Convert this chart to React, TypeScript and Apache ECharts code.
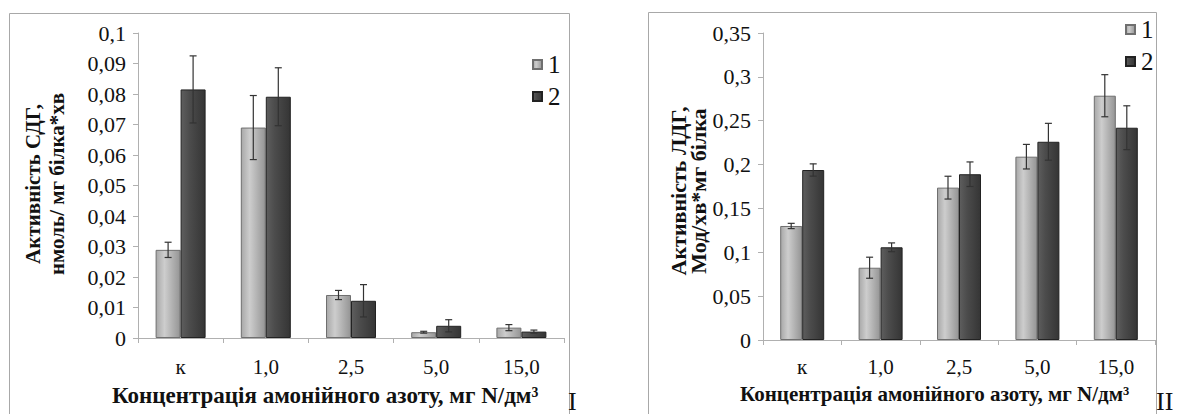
import React, { useEffect, useRef } from "react";
import * as echarts from "echarts";

const categories = ["к", "1,0", "2,5", "5,0", "15,0"];
const sdg1 = [0.0289, 0.069, 0.0141, 0.0019, 0.0034];
const sdg1Err = [0.0025, 0.0105, 0.0015, 0.0003, 0.001];
const sdg2 = [0.0815, 0.0791, 0.0122, 0.004, 0.0021];
const sdg2Err = [0.011, 0.0095, 0.0053, 0.002, 0.0005];
const ldg1 = [0.13, 0.0824, 0.1737, 0.209, 0.2785];
const ldg1Err = [0.003, 0.012, 0.013, 0.014, 0.024];
const ldg2 = [0.1938, 0.1057, 0.189, 0.226, 0.242];
const ldg2Err = [0.007, 0.005, 0.014, 0.021, 0.025];
const leftTicks = ["0", "0,01", "0,02", "0,03", "0,04", "0,05", "0,06", "0,07", "0,08", "0,09", "0,1"];
const rightTicks = ["0", "0,05", "0,1", "0,15", "0,2", "0,25", "0,3", "0,35"];
const seriesNames = ["1", "2"];
const leftYTitle = "Активність СДГ,\nнмоль/ мг білка*хв";
const rightYTitle = "Активність ЛДГ,\nМод/хв*мг білка";
const xTitle = "Концентрація амонійного азоту, мг N/дм³";

const FONT = "Liberation Serif";

export default function App() {
  const ref = useRef<HTMLDivElement>(null);
  useEffect(() => {
    if (!ref.current) return;
    const chart = echarts.init(ref.current, undefined, { renderer: "svg" });
    const light = new echarts.graphic.LinearGradient(0, 0, 1, 0, [
      { offset: 0, color: "#a8a8a8" },
      { offset: 0.35, color: "#cdcdcd" },
      { offset: 1, color: "#959595" },
    ]);
    const dark = new echarts.graphic.LinearGradient(0, 0, 1, 0, [
      { offset: 0, color: "#5e5e5e" },
      { offset: 0.35, color: "#4c4c4c" },
      { offset: 1, color: "#353535" },
    ]);
    const errRender = (offset: number) => (params: any, api: any) => {
      const i = api.value(0);
      const lo = api.coord([i, api.value(1)]);
      const hi = api.coord([i, api.value(2)]);
      const x = lo[0] + offset;
      const c = 3.5;
      const st = { stroke: "#333", lineWidth: 1.2 };
      return {
        type: "group",
        children: [
          { type: "line", shape: { x1: x, y1: hi[1], x2: x, y2: lo[1] }, style: st },
          { type: "line", shape: { x1: x - c, y1: hi[1], x2: x + c, y2: hi[1] }, style: st },
          { type: "line", shape: { x1: x - c, y1: lo[1], x2: x + c, y2: lo[1] }, style: st },
        ],
      };
    };
    const errData = (v: number[], e: number[]) => v.map((val, i) => [i, Math.max(0, val - e[i]), val + e[i]]);
    const axisLabelStyle = { fontFamily: FONT, fontSize: 22, color: "#111" };
    const mkX = (gi: number, margin: number) => ({
      type: "category",
      gridIndex: gi,
      data: categories,
      axisLine: { lineStyle: { color: "#b0b0b0" } },
      axisTick: { show: true, length: 5, lineStyle: { color: "#b0b0b0" } },
      axisLabel: { ...axisLabelStyle, fontSize: 21, margin },
    });
    const mkY = (gi: number, max: number, interval: number, ticks: string[]) => ({
      type: "value",
      gridIndex: gi,
      min: 0,
      max,
      interval,
      splitLine: { show: false },
      axisLine: { show: true, lineStyle: { color: "#b0b0b0" } },
      axisTick: { show: true, length: 5, lineStyle: { color: "#b0b0b0" } },
      axisLabel: {
        ...axisLabelStyle,
        margin: 12,
        formatter: (v: number) => ticks[Math.round(v / interval)] ?? "",
      },
    });
    const barSeries = (name: string, gi: number, data: number[], color: any, border: string, w: number) => ({
      name,
      type: "bar",
      xAxisIndex: gi,
      yAxisIndex: gi,
      data,
      barWidth: w,
      barGap: "0%",
      itemStyle: { color, borderColor: border, borderWidth: 1 },
    });
    const errSeries = (gi: number, v: number[], e: number[], offset: number) => ({
      name: "err",
      type: "custom",
      xAxisIndex: gi,
      yAxisIndex: gi,
      z: 10,
      renderItem: errRender(offset),
      encode: { x: 0, y: [1, 2] },
      data: errData(v, e),
    });
    const legendCommon = {
      data: seriesNames,
      orient: "vertical",
      icon: "rect",
      itemWidth: 9,
      itemHeight: 9,
      itemGap: 7,
      textStyle: { fontFamily: FONT, fontSize: 25, color: "#111", padding: [0, 0, 0, 1] },
      selectedMode: false,
    };
    chart.setOption({
      animation: false,
      backgroundColor: "#fff",
      grid: [
        { left: 138, right: 615, top: 33, bottom: 76 },
        { left: 763, right: 24, top: 33, bottom: 74 },
      ],
      xAxis: [mkX(0, 18), mkX(1, 16)],
      yAxis: [mkY(0, 0.1, 0.01, leftTicks), mkY(1, 0.35, 0.05, rightTicks)],
      legend: [
        { ...legendCommon, left: 527, top: 47 },
        { ...legendCommon, left: 1120, top: 12 },
      ],
      series: [
        barSeries(seriesNames[0], 0, sdg1, light, "#6f6f6f", 25),
        barSeries(seriesNames[1], 0, sdg2, dark, "#222", 25),
        barSeries(seriesNames[0], 1, ldg1, light, "#6f6f6f", 22),
        barSeries(seriesNames[1], 1, ldg2, dark, "#222", 22),
        errSeries(0, sdg1, sdg1Err, -12.5),
        errSeries(0, sdg2, sdg2Err, 12.5),
        errSeries(1, ldg1, ldg1Err, -11),
        errSeries(1, ldg2, ldg2Err, 11),
      ],
      graphic: [
        { type: "rect", shape: { x: 9.5, y: 13.5, width: 560, height: 420 }, style: { fill: "none", stroke: "#a8a8a8", lineWidth: 1 }, z: -1 },
        { type: "rect", shape: { x: 648.5, y: 12.5, width: 508, height: 420 }, style: { fill: "none", stroke: "#a8a8a8", lineWidth: 1 }, z: -1 },
        {
          type: "text", x: 45, y: 184, rotation: Math.PI / 2,
          style: { text: leftYTitle, fontFamily: FONT, fontWeight: "bold", fontSize: 21, fill: "#111", align: "center", verticalAlign: "middle", lineHeight: 24 },
        },
        {
          type: "text", x: 688, y: 191, rotation: Math.PI / 2,
          style: { text: rightYTitle, fontFamily: FONT, fontWeight: "bold", fontSize: 22, fill: "#111", align: "center", verticalAlign: "middle", lineHeight: 20 },
        },
        {
          type: "text", x: 112, y: 395,
          style: { text: xTitle, fontFamily: FONT, fontWeight: "bold", fontSize: 23, fill: "#111", align: "left", verticalAlign: "middle" },
        },
        {
          type: "text", x: 740, y: 394,
          style: { text: xTitle, fontFamily: FONT, fontWeight: "bold", fontSize: 21, fill: "#111", align: "left", verticalAlign: "middle" },
        },
        {
          type: "text", x: 568, y: 388,
          style: { text: "І", fontFamily: FONT, fontSize: 26, fill: "#111", align: "left", verticalAlign: "top" },
        },
        {
          type: "text", x: 1156, y: 388,
          style: { text: "ІІ", fontFamily: FONT, fontSize: 26, fill: "#111", align: "left", verticalAlign: "top" },
        },
      ],
    });
    return () => chart.dispose();
  }, []);
  return <div ref={ref} style={{ position: "absolute", left: 0, top: 0, width: 1179, height: 414 }} />;
}
